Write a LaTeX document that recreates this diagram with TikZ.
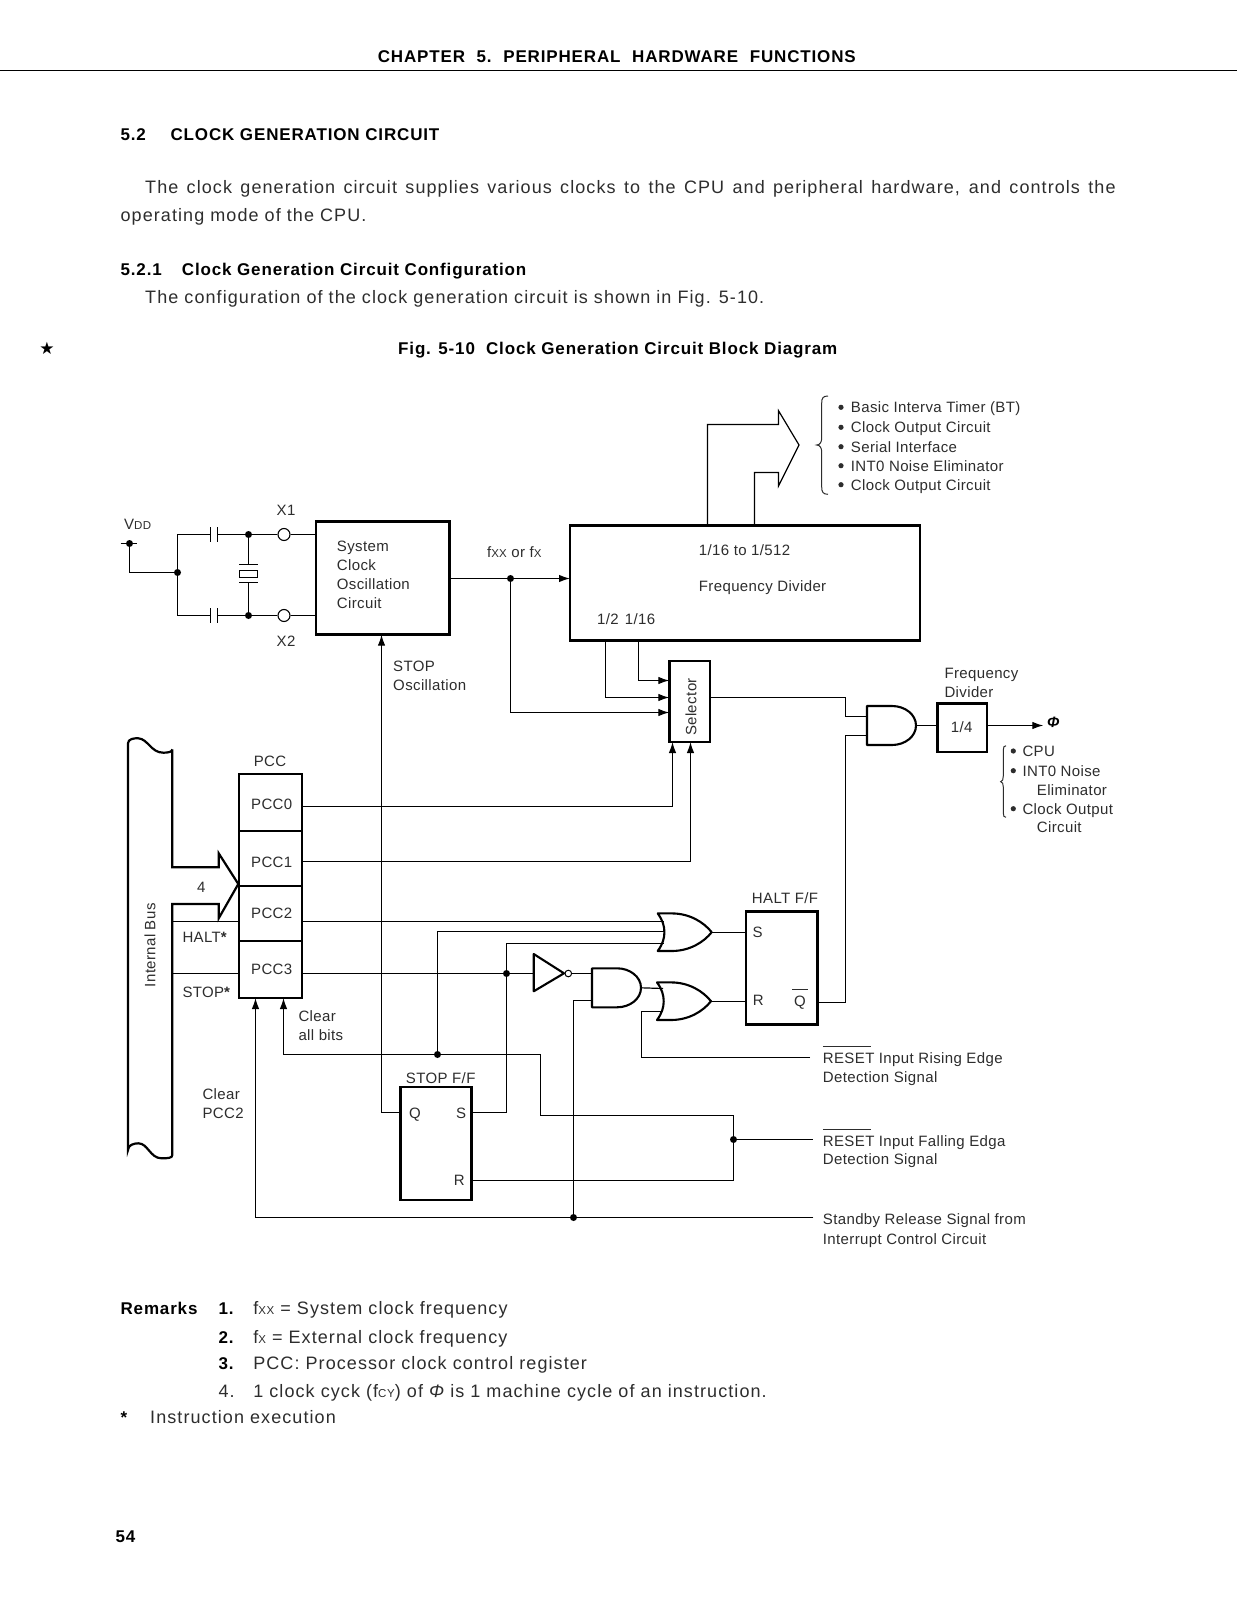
\documentclass[tikz,border=0pt]{standalone}
\usepackage{fontspec}
\usetikzlibrary{arrows.meta,calc,positioning}
\setmainfont{Liberation Sans}
\newfontfamily\bodyfont[LetterSpace=6]{Liberation Sans}
\newfontfamily\headfont[LetterSpace=5,BoldFont={Liberation Sans Bold}]{Liberation Sans}
\newfontfamily\diagfont[LetterSpace=2.5]{Liberation Sans}
\newfontfamily\symfont{DejaVu Sans}
\definecolor{PageInk}{RGB}{45,45,45}
\newcommand{\lowcaps}[1]{{\fontsize{11.5}{11.5}\selectfont #1}}
\newcommand{\barabove}[3]{\makebox[0pt][l]{\kern#1\raisebox{16.5pt}{\rule{#2}{0.9pt}}}#3}
\tikzset{
  pics/andgate/.style={code={
    \draw[gateln] (0,-19.5) -- (25,-19.5) .. controls (38,-19.5) and (49,-11) .. (49,0) .. controls (49,11) and (38,19.5) .. (25,19.5) -- (0,19.5) -- cycle;
    \coordinate (-out) at (49,0);
  }},
  pics/orgate/.style={code={
    \draw[gateln] (0,-18.8) -- (14,-18.8) .. controls (32,-18.8) and (46,-10) .. (54,0) .. controls (46,10) and (32,18.8) .. (14,18.8) -- (0,18.8) .. controls (5,12) and (6.7,6) .. (6.7,0) .. controls (6.7,-6) and (5,-12) .. (0,-18.8) -- cycle;
    \coordinate (-out) at (54,0);
  }}
}
\begin{document}
\begin{tikzpicture}[x=1pt,y=-1pt,
  ln/.style={line width=1.2pt,line join=miter},
  arr/.style={ln,-{Latex[length=11pt,width=7.5pt]}},
  gateln/.style={line width=2.1pt,line join=round},
  platebox/.style={rectangle,draw,line width=2.6pt,inner sep=0pt,outer sep=0pt},
  pccbox/.style={platebox,line width=2.2pt,minimum width=63pt},
  dot/.style={circle,fill=black,inner sep=0pt,minimum size=7pt},
  bullet/.style={circle,fill=PageInk,inner sep=0pt,minimum size=5.2pt},
  pin/.style={circle,draw,line width=1.1pt,fill=white,inner sep=0pt,minimum size=12pt},
  lbl/.style={font=\diagfont\fontsize{15}{19}\selectfont,text=PageInk,inner sep=0pt,anchor=base west,yshift=-5.3pt},
  mid/.style={font=\diagfont\fontsize{15}{19}\selectfont,text=PageInk,inner sep=0pt,anchor=base,yshift=-5.3pt},
  blk/.style={font=\diagfont\fontsize{15}{19}\selectfont,text=PageInk,inner sep=0pt,anchor=west,align=left},
  body/.style={font=\bodyfont\fontsize{18}{27}\selectfont,text=PageInk,inner sep=0pt,anchor=base west,yshift=-6pt},
  head/.style={font=\headfont\bfseries\fontsize{17}{27}\selectfont,text=black,inner sep=0pt,anchor=base west,yshift=-6pt}
]
  \useasboundingbox (0,0) rectangle (1237,1600);
  \fill[white] (0,0) rectangle (1237,1600);

  % page text
  \node[head] (chapter) at (377.6,56.8) {\makebox[478pt][s]{CHAPTER\ \ 5.\ \ PERIPHERAL\ \ HARDWARE\ \ FUNCTIONS}};
  \draw[line width=1.2pt] (0,70.4) -- (1237,70.4);
  \node[head] (secnum) at (120.4,134.4) {5.2};
  \node[head] (sectitle) at (170.4,134.4) {CLOCK GENERATION CIRCUIT};
  \node[body] (para1) at (145,187.8) {\makebox[970.5pt][s]{The clock generation circuit supplies various clocks to the CPU and peripheral hardware, and controls the}};
  \node[body] (para2) at (120.4,215.3) {operating mode of the CPU.};
  \node[head] (subnum) at (120.4,269.8) {5.2.1};
  \node[head] (subtitle) at (181.7,269.8) {Clock Generation Circuit Configuration};
  \node[body] (para3) at (145,297) {The configuration of the clock generation circuit is shown in Fig. 5-10.};
  \node[font=\symfont\fontsize{17}{17}\selectfont,inner sep=0pt] (star) at (47,348) {★};
  \node[head] (figtitle) at (398,348) {Fig. 5-10\ \ Clock Generation Circuit Block Diagram};

  % blocks
  \node[platebox,minimum width=133.3pt,minimum height=113pt] (sysosc) at (382.7,578.2) {};
  \node[platebox,minimum width=350pt,minimum height=115pt] (divider) at (745,583.2) {};
  \node[platebox,minimum width=40.7pt,minimum height=81pt] (selector) at (689.7,701.5) {};
  \node[platebox,minimum width=49.3pt,minimum height=48.7pt] (quarter) at (962.3,727.7) {};
  \node[pccbox,minimum height=57pt] (pcc0) at (270.5,802.8) {};
  \node[pccbox,minimum height=54.7pt] (pcc1) at (270.5,858.7) {};
  \node[pccbox,minimum height=55pt] (pcc2) at (270.5,913.5) {};
  \node[pccbox,minimum height=57pt] (pcc3) at (270.5,969.5) {};
  \node[platebox,minimum width=71.3pt,minimum height=113pt] (haltff) at (781.7,968.2) {};
  \node[platebox,minimum width=71pt,minimum height=113pt] (stopff) at (436.2,1143.5) {};

  % oscillator side
  \node[dot] (vdd) at (129.5,543.5) {};
  \node[dot] (vjoin) at (177.5,572.5) {};
  \node[dot] (xtop) at (248.5,534.5) {};
  \node[dot] (xbot) at (248.5,615.5) {};
  \node[pin] (x1pin) at (284,534.5) {};
  \node[pin] (x2pin) at (284,615.5) {};
  \node[rectangle,draw,line width=1.2pt,inner sep=0pt,minimum width=18.7pt,minimum height=6.6pt] (xtal) at (248.5,574) {};
  \coordinate (vstubl) at (120.7,543.5);
  \coordinate (vstubr) at (137.3,543.5);
  \coordinate (capa) at (210.5,534.5);
  \coordinate (capb) at (210.5,615.5);
  \coordinate (capc) at (217.5,534.5);
  \coordinate (capd) at (217.5,615.5);
  \draw[ln] (vstubl) -- (vstubr);
  \draw[ln] (vdd) |- (vjoin);
  \draw[ln] (vjoin) |- (capa);
  \draw[ln] (vjoin) |- (capb);
  \draw[ln] (capc) -- (xtop);
  \draw[ln] (capd) -- (xbot);
  \draw[ln] ($(capa)+(0,-7.3)$) -- ($(capa)+(0,7.3)$);
  \draw[ln] ($(capc)+(0,-7.3)$) -- ($(capc)+(0,7.3)$);
  \draw[ln] ($(capb)+(0,-7.3)$) -- ($(capb)+(0,7.3)$);
  \draw[ln] ($(capd)+(0,-7.3)$) -- ($(capd)+(0,7.3)$);
  \draw[ln] (xtop) -- (x1pin);
  \draw[ln] (xbot) -- (x2pin);
  \draw[ln] (x1pin) -- (sysosc.west |- x1pin);
  \draw[ln] (x2pin) -- (sysosc.west |- x2pin);
  \draw[ln] (xtop) -- (248.5,564.5);
  \draw[ln] (xbot) -- (248.5,582.5);
  \draw[ln] (239.3,564.5) -- (258,564.5);
  \draw[ln] (239.3,582.5) -- (258,582.5);

  % clock path
  \node[dot] (fjoin) at (510.5,578.5) {};
  \coordinate (selin1) at (669.3,680.5);
  \coordinate (selin2) at (669.3,697.5);
  \coordinate (selin3) at (669.3,712.5);
  \coordinate (tap1) at (605.5,640.7);
  \coordinate (tap2) at (638.5,640.7);
  \draw[ln] (sysosc.east |- fjoin) -- (fjoin);
  \draw[arr] (fjoin) -- (divider.west |- fjoin);
  \draw[arr] (fjoin) |- (selin3);
  \draw[arr] (tap1) |- (selin2);
  \draw[arr] (tap2) |- (selin1);
  \draw[arr] (pcc0.east |- 0,806.5) -| (672.5,742);
  \draw[arr] (pcc1.east |- 0,861.5) -| (690.5,742);

  % wide output arrow of the divider
  \draw[ln] (707.5,525.7) -- (707.5,424.5) -- (778.5,424.5) -- (778.5,410.7) -- (799,445) -- (778.5,486) -- (778.5,472.5) -- (754.5,472.5) -- (754.5,525.7);
  \draw[line width=1pt,PageInk] (828,396) .. controls (823,396) and (821.7,398) .. (821.7,403) -- (821.7,438) .. controls (821.7,442) and (820,445) .. (816.7,445) .. controls (820,445) and (821.7,448) .. (821.7,452) -- (821.7,487) .. controls (821.7,492) and (823,494.3) .. (828,494.3);

  % and gate to the 1/4 divider
  \pic (andout) at (867,725.5) {andgate};
  \coordinate (andin1) at (867,716.5);
  \coordinate (andin2) at (867,735.5);
  \coordinate (phiend) at (1043.3,725.5);
  \draw[ln] (selector.east |- 0,697.5) -| (845.5,716.5) -- (andin1);
  \draw[ln] (haltff.east |- 0,1002.5) -| (845.5,735.5) -- (andin2);
  \draw[ln] (andout-out) -- (quarter.west |- andout-out);
  \draw[arr] (quarter.east |- andout-out) -- (phiend);
  \draw[line width=1pt,PageInk] (1006,745.7) .. controls (1004,745.7) and (1003.3,747) .. (1003.3,750) -- (1003.3,776) .. controls (1003.3,779) and (1002.5,781.7) .. (1000.7,781.7) .. controls (1002.5,781.7) and (1003.3,784) .. (1003.3,787) -- (1003.3,813) .. controls (1003.3,816) and (1004,817.3) .. (1006,817.3);

  % internal bus with its wide arrow
  \draw[line width=2.2pt,line join=miter] (172.3,749.3) -- (172.3,867.3) -- (218.7,867.3) -- (218.7,853.3) -- (238.3,884) -- (218.7,918.3) -- (218.7,904) -- (172.3,904) -- (172.3,1155)
    .. controls (172.3,1158) and (168,1158.3) .. (161.7,1158.3) .. controls (150,1158.3) and (148,1143.3) .. (138.3,1143.3) .. controls (134,1143.3) and (128,1145) .. (128,1150)
    -- (128,743.3) .. controls (128,739) and (134,738) .. (138.3,738.3) .. controls (148,739) and (151,752.7) .. (163.3,752.7) .. controls (168,752.7) and (172.3,752) .. (172.3,749.3);
  \coordinate (busa) at (172.3,921.5);
  \coordinate (busb) at (172.3,973.5);
  \draw[ln] (busa) -- (pcc2.west |- busa);
  \draw[ln] (busb) -- (pcc3.west |- busb);

  % halt logic
  \pic (orset) at (657.7,932.2) {orgate};
  \pic (orrst) at (657,1001.2) {orgate};
  \pic (andrst) at (592,987.8) {andgate};
  \node[dot] (stopjoin) at (506.5,973.5) {};
  \node[dot] (clearjoin) at (437.5,1054.5) {};
  \node[dot] (falljoin) at (733.5,1139.5) {};
  \node[dot] (relsjoin) at (573.5,1217.5) {};
  \coordinate (inva) at (533.7,954);
  \coordinate (invb) at (533.7,991.3);
  \coordinate (invc) at (564,973.3);
  \node[pin,line width=1pt,minimum size=6.6pt] (invbub) at (568.3,973.5) {};
  \coordinate (riseend) at (810,1057.5);
  \coordinate (fallend) at (812.7,1139.5);
  \coordinate (relsend) at (813.3,1217.5);
  \draw[gateln] (inva) -- (invc) -- (invb) -- cycle;
  \draw[ln] (pcc2.east |- 0,921.5) -- (663.5,921.5);
  \draw[ln] (pcc3.east |- stopjoin) -- (stopjoin);
  \draw[ln] (stopjoin) -- (533.7,973.5);
  \draw[ln] (clearjoin) |- (664,931.5);
  \draw[ln] (stopjoin) |- (663.5,943.5);
  \draw[ln] (invbub) -- (592,973.5);
  \draw[ln] (relsjoin) |- (592,1000.5);
  \draw[ln] (andrst-out) -- (663,988.5);
  \draw[ln] (riseend) -| (641.5,1011.5) -- (662,1011.5);
  \draw[ln] (orset-out) -- (haltff.west |- orset-out);
  \draw[ln] (orrst-out) -- (haltff.west |- orrst-out);

  % stop flip-flop and the clear lines
  \coordinate (stopq) at (400.7,1112.5);
  \coordinate (stops) at (471.7,1112.5);
  \coordinate (stopr) at (471.7,1180.5);
  \draw[arr] (stopq) -| (381.5,634.7);
  \draw[ln] (stops) -| (stopjoin);
  \draw[ln] (stopr) -| (falljoin);
  \draw[ln] (falljoin) |- (540.5,1115.5) |- (clearjoin);
  \draw[arr] (clearjoin) -| (283.5,998);
  \draw[arr] (relsend) -| (255.5,998);
  \draw[ln] (falljoin) -- (fallend);

  % diagram labels
  \node[lbl] (vddtxt) at (124,524) {V\lowcaps{DD}};
  \node[mid] (x1txt) at (286,510) {X1};
  \node[mid] (x2txt) at (286,640.7) {X2};
  \node[blk] (sysosctxt) at (336.7,574.6) {System\\Clock\\Oscillation\\Circuit};
  \node[mid] (ftxt) at (514.3,551.7) {f\lowcaps{XX} or f\lowcaps{X}};
  \node[lbl] (divrate) at (698.7,549.7) {1/16 to 1/512};
  \node[lbl] (divname) at (698.7,585.7) {Frequency Divider};
  \node[lbl] (div2) at (597,619.5) {1/2};
  \node[lbl] (div16) at (624.6,619.5) {1/16};
  \node[blk] (stoptxt) at (393,675.4) {STOP\\Oscillation};
  \node[mid,rotate=90,anchor=center,yshift=0pt] (seltxt) at (691,701.7) {Selector};
  \node[bullet] (bul1) at (841,407.3) {};
  \node[bullet] (bul2) at (841,427.3) {};
  \node[bullet] (bul3) at (841,446.7) {};
  \node[bullet] (bul4) at (841,465.7) {};
  \node[bullet] (bul5) at (841,484.7) {};
  \node[lbl] (dest1) at (850.7,407.3) {Basic Interva Timer (BT)};
  \node[lbl] (dest2) at (850.7,427.3) {Clock Output Circuit};
  \node[lbl] (dest3) at (850.7,446.7) {Serial Interface};
  \node[lbl] (dest4) at (850.7,465.7) {INT0 Noise Eliminator};
  \node[lbl] (dest5) at (850.7,484.7) {Clock Output Circuit};
  \node[blk] (quartxt) at (944.3,683.3) {Frequency\\Divider};
  \node[mid] (quarval) at (961.7,726.7) {1/4};
  \node[font=\bfseries\itshape\fontsize{15}{15}\selectfont,inner sep=0pt] (phitxt) at (1053.3,722) {Φ};
  \node[bullet] (bul6) at (1013.3,751) {};
  \node[bullet] (bul7) at (1013.3,770.7) {};
  \node[bullet] (bul8) at (1013.3,808.7) {};
  \node[lbl] (dcpu) at (1022.3,751) {CPU};
  \node[lbl] (dint) at (1022.3,770.7) {INT0 Noise};
  \node[lbl] (delim) at (1036.7,789.7) {Eliminator};
  \node[lbl] (dclk) at (1022.3,808.7) {Clock Output};
  \node[lbl] (dcir) at (1036.7,827.3) {Circuit};
  \node[mid] (pcctxt) at (270,761) {PCC};
  \node[mid] (pcc0txt) at (271.7,804) {PCC0};
  \node[mid] (pcc1txt) at (271.7,862.3) {PCC1};
  \node[mid] (pcc2txt) at (271.7,913) {PCC2};
  \node[mid] (pcc3txt) at (271.7,969.3) {PCC3};
  \node[mid] (bus4) at (201.3,887.3) {4};
  \node[lbl] (halttxt) at (182.3,937.3) {HALT{\bfseries *}};
  \node[lbl] (stoptx2) at (182.3,991.7) {STOP{\bfseries *}};
  \node[mid,rotate=90,anchor=center,yshift=0pt] (bustxt) at (150,940) {Internal Bus};
  \node[blk] (clearall) at (298.3,1025.4) {Clear\\all bits};
  \node[blk] (clearp2) at (202.3,1103.4) {Clear\\PCC2};
  \node[mid] (stopfftxt) at (440.7,1078.3) {STOP F/F};
  \node[mid] (stopqtxt) at (415,1113) {Q};
  \node[mid] (stopstxt) at (461,1113) {S};
  \node[mid] (stoprtxt) at (459.3,1180) {R};
  \node[mid] (halttx2) at (785,898.3) {HALT F/F};
  \node[mid] (haltstxt) at (757.7,932.3) {S};
  \node[mid] (haltrtxt) at (758.3,1000) {R};
  \node[mid] (haltqtxt) at (800,1000.7) {\barabove{-2pt}{15.7pt}{Q}};
  \node[lbl] (rise1) at (822.7,1058.3) {\barabove{0pt}{48pt}{RESET} Input Rising Edge};
  \node[lbl] (rise2) at (822.7,1077.3) {Detection Signal};
  \node[lbl] (fall1) at (822.7,1140.7) {\barabove{0pt}{48pt}{RESET} Input Falling Edga};
  \node[lbl] (fall2) at (822.7,1159.3) {Detection Signal};
  \node[lbl] (rels1) at (822.7,1219.6) {Standby Release Signal from};
  \node[lbl] (rels2) at (822.7,1239) {Interrupt Control Circuit};

  % remarks
  \node[head] (remarks) at (120.4,1308.4) {Remarks};
  \node[head] (rem1) at (218.4,1308.4) {1.};
  \node[head] (rem2) at (218.4,1337) {2.};
  \node[head] (rem3) at (218.4,1363.5) {3.};
  \node[body] (rem4) at (218.4,1391) {4.};
  \node[body] (rem1t) at (253.1,1308.4) {f\lowcaps{XX} = System clock frequency};
  \node[body] (rem2t) at (253.1,1337) {f\lowcaps{X} = External clock frequency};
  \node[body] (rem3t) at (253.1,1363.5) {PCC: Processor clock control register};
  \node[body] (rem4t) at (253.1,1391) {1 clock cyck (f\lowcaps{CY}) of {\itshape Φ} is 1 machine cycle of an instruction.};
  \node[head] (remast) at (120.4,1417.6) {*};
  \node[body] (remastt) at (150,1417.6) {Instruction execution};
  \node[head] (pagenum) at (115.3,1536) {54};
\end{tikzpicture}
\end{document}
